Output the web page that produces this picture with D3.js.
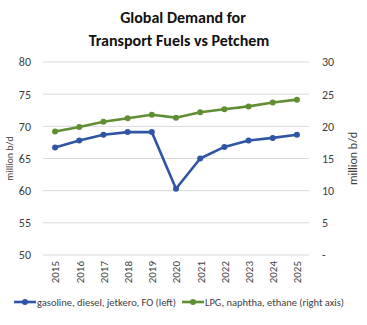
<!DOCTYPE html>
<html>
<head>
<meta charset="utf-8">
<script src="https://cdn.jsdelivr.net/npm/d3@7"></script>
<style>
  body { margin: 0; background: #fff; }
  svg { display: block; font-family: Carlito, "Open Sans", "Liberation Sans", sans-serif; }
</style>
</head>
<body>
<div id="chart"></div>
<script>
// Global demand: transport fuels (left axis) vs petchem feedstocks (right axis)
const years = ['2015','2016','2017','2018','2019','2020','2021','2022','2023','2024','2025'];
const fuels = [66.7, 67.8, 68.7, 69.1, 69.1, 60.3, 65.0, 66.8, 67.8, 68.2, 68.7];
const petchem = [19.2, 19.9, 20.7, 21.25, 21.8, 21.35, 22.2, 22.65, 23.1, 23.7, 24.15];
const leftTicks = [50, 55, 60, 65, 70, 75, 80];
const rightTicks = [0, 5, 10, 15, 20, 25, 30];
const seriesNames = ['gasoline, diesel, jetkero, FO (left)', 'LPG, naphtha, ethane (right axis)'];

const W = 367, H = 325;
const m = { top: 62, right: 58, bottom: 70, left: 43 };
const blue = '#2f55a4', green = '#5f8f32';

const svg = d3.select('#chart').append('svg')
    .attr('width', W).attr('height', H);

// Title
const title = svg.append('text')
    .attr('text-anchor', 'middle')
    .attr('font-weight', 'bold')
    .attr('font-size', 16)
    .attr('fill', '#111');
title.append('tspan').attr('x', 183).attr('y', 23).text('Global Demand for');
title.append('tspan').attr('x', 179).attr('y', 46).text('Transport Fuels vs Petchem');

const x = d3.scalePoint().domain(years)
    .range([m.left, W - m.right]).padding(0.5);
const yL = d3.scaleLinear().domain([50, 80]).range([H - m.bottom, m.top]);
const yR = d3.scaleLinear().domain([0, 30]).range([H - m.bottom, m.top]);

// Gridlines
svg.append('g').selectAll('line')
    .data(leftTicks).enter().append('line')
    .attr('x1', m.left).attr('x2', W - m.right)
    .attr('y1', d => yL(d)).attr('y2', d => yL(d))
    .attr('stroke', '#d9d9d9').attr('stroke-width', 1);

// Left axis
const axL = svg.append('g')
    .attr('transform', `translate(${m.left - 12},0)`)
    .call(d3.axisLeft(yL).tickValues(leftTicks).tickSize(0).tickPadding(0));
axL.select('.domain').remove();
axL.selectAll('text').attr('font-size', 12).attr('fill', '#404040')
    .attr('font-family', 'Carlito, "Open Sans", sans-serif');

// Right axis
const axR = svg.append('g')
    .attr('transform', `translate(${W - m.right + 13},0)`)
    .call(d3.axisRight(yR).tickValues(rightTicks).tickSize(0).tickPadding(0)
        .tickFormat(d => d === 0 ? '-' : d));
axR.select('.domain').remove();
axR.selectAll('text').attr('font-size', 12).attr('fill', '#404040')
    .attr('font-family', 'Carlito, "Open Sans", sans-serif');

// Axis titles
svg.append('text')
    .attr('transform', `translate(13,${(yL(80) + yL(50)) / 2}) rotate(-90)`)
    .attr('text-anchor', 'middle').attr('font-size', 10).attr('fill', '#404040')
    .text('million b/d');
svg.append('text')
    .attr('transform', `translate(357,${(yR(30) + yR(0)) / 2}) rotate(-90)`)
    .attr('text-anchor', 'middle').attr('font-size', 12).attr('fill', '#404040')
    .text('million b/d');

// X axis labels (rotated)
const axX = svg.append('g')
    .attr('transform', `translate(0,${H - m.bottom + 6})`)
    .call(d3.axisBottom(x).tickSize(0).tickPadding(0));
axX.select('.domain').remove();
axX.selectAll('text')
    .attr('font-size', 11).attr('fill', '#404040')
    .attr('font-family', 'Carlito, "Open Sans", sans-serif')
    .attr('text-anchor', 'end')
    .attr('dy', '0.35em')
    .attr('transform', 'rotate(-90)');

// Lines
function drawSeries(vals, y, color) {
    const line = d3.line().x((d, i) => x(years[i])).y(d => y(d));
    svg.append('path').datum(vals)
        .attr('d', line).attr('fill', 'none')
        .attr('stroke', color).attr('stroke-width', 2.6)
        .attr('stroke-linejoin', 'round');
    svg.append('g').selectAll('circle')
        .data(vals).enter().append('circle')
        .attr('cx', (d, i) => x(years[i])).attr('cy', d => y(d))
        .attr('r', 3).attr('fill', color);
}
drawSeries(fuels, yL, blue);
drawSeries(petchem, yR, green);

// Legend
const legend = svg.append('g').attr('transform', 'translate(0,302)');
const legendItems = [
    { name: seriesNames[0], color: blue, x: 14 },
    { name: seriesNames[1], color: green, x: 182 }
];
legendItems.forEach(it => {
    const g = legend.append('g').attr('transform', `translate(${it.x},0)`);
    g.append('line').attr('x1', 0).attr('x2', 22).attr('y1', 0).attr('y2', 0)
        .attr('stroke', it.color).attr('stroke-width', 2.6);
    g.append('circle').attr('cx', 11).attr('cy', 0).attr('r', 3).attr('fill', it.color);
    g.append('text').attr('x', 23).attr('y', 0).attr('dy', '0.35em')
        .attr('font-size', 10.5).attr('fill', '#404040')
        .text(it.name);
});
</script>
</body>
</html>
